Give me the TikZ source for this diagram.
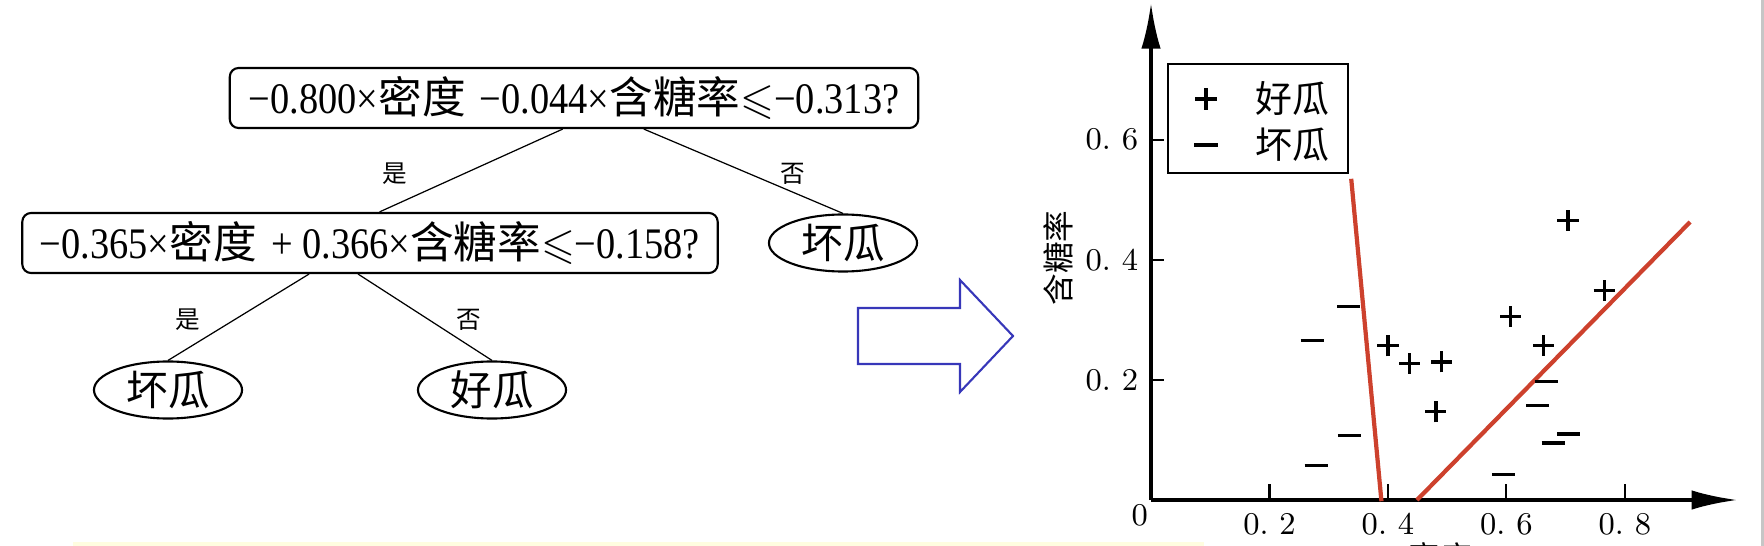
\documentclass[tikz,border=0pt]{standalone}
\usepackage{amssymb}
\usepackage{fontspec}
\newfontfamily\zh{Noto Sans CJK SC}
\newfontfamily\tm[FakeStretch=0.88]{Liberation Serif}
\usetikzlibrary{arrows.meta,positioning,shapes.geometric}
\definecolor{arrowblue}{RGB}{55,55,185}
\definecolor{splitred}{RGB}{205,65,45}

\begin{document}
\begin{tikzpicture}[x=0.01cm,y=-0.01cm,
  cond/.style={draw,rounded corners=2.5pt,line width=0.6pt,inner sep=0pt,minimum height=0.6cm,font=\fontsize{12.4}{14}\selectfont},
  leaf/.style={draw,ellipse,line width=0.6pt,inner sep=0pt,minimum width=1.48cm,minimum height=0.57cm,font=\zh\fontsize{11.8}{13}\selectfont},
  yesno/.style={font=\zh\fontsize{7}{8}\selectfont},
  branch/.style={line width=0.35pt},
  hollowarrow/.style={draw=arrowblue,line width=0.6pt,line join=miter},
  axisline/.style={line width=1pt,-{Latex[length=13pt,width=5.5pt]}},
  tickline/.style={line width=0.6pt},
  ticklabel/.style={font=\fontsize{9}{10}\selectfont,inner sep=0pt},
  boundary/.style={draw=splitred,line width=1.2pt},
  sign/.style={line width=0.9pt}]
\useasboundingbox (0,0) rectangle (1764,546);
\fill[yellow!12] (73,542) rectangle (1204,546);
\fill[gray!45] (1761,0) rectangle (1764,546);

% decision tree
\node[cond,minimum width=6.88cm] (q1) at (574,98) {{\tm −0.800×}{\zh 密度} {\tm −0.044×}{\zh 含糖率}$\leqslant${\tm −0.313?}};
\node[cond,minimum width=6.95cm] (q2) at (370,243) {{\tm −0.365×}{\zh 密度} {\tm + 0.366×}{\zh 含糖率}$\leqslant${\tm −0.158?}};
\node[leaf] (l1) at (843,243) {坏瓜};
\node[leaf] (l2) at (168,390) {坏瓜};
\node[leaf] (l3) at (492,390) {好瓜};

\foreach \from/\to in {q1.-110/q2.73,q1.-24/l1.north,q2.-153/l2.north,q2.-111/l3.north}
\draw[branch] (\from) -- (\to);

\node[yesno] (y1) at (395,174) {是};
\node[yesno] (n1) at (793,174) {否};
\node[yesno] (y2) at (188,320) {是};
\node[yesno] (n2) at (469,320) {否};

% hollow arrow
\draw[hollowarrow] (858,308) -- (960,308) -- (960,280) -- (1013,336) -- (960,392) -- (960,364) -- (858,364) -- cycle;

% legend
\draw[line width=0.7pt] (1168,64) rectangle (1348,173);
\draw[sign] (1206,99) +(-3pt,0) -- +(3pt,0) +(0,-3pt) -- +(0,3pt);
\draw[sign] (1206,145) +(-3.3pt,0) -- +(3.3pt,0);
\node[font=\zh\fontsize{10.5}{12}\selectfont] (good) at (1292,99) {好瓜};
\node[font=\zh\fontsize{10.5}{12}\selectfont] (bad) at (1292,145) {坏瓜};

\node[font=\zh\fontsize{9}{10}\selectfont,rotate=90] (ylab) at (1058,258) {含糖率};
\node[font=\zh\fontsize{9}{10}\selectfont] (xlab) at (1440,557) {密度};

% scatter plot
\begin{scope}[shift={(1151,500)},x=5.92cm,y=6cm]
\draw[axisline] (0,0) -- (0.99,0);
\draw[axisline] (0,0) -- (0,0.828);
\foreach \x/\t in {0.2/2,0.4/4,0.6/6,0.8/8}
{\draw[tickline] (\x,0) -- (\x,0.027);
 \node[ticklabel] at (\x,-0.04) {0.\ \t};}
\foreach \y/\t in {0.2/2,0.4/4,0.6/6}
{\draw[tickline] (0,\y) -- (0.022,\y);
 \node[ticklabel] at (-0.066,\y) {0.\ \t};}
\node[ticklabel] (zero) at (-0.019,-0.025) {0};

\draw[boundary] (0.338,0.535) -- (0.389,-0.002);
\draw[boundary] (0.449,0) -- (0.910,0.463);

\foreach \x/\y in {0.704/0.466,0.765/0.349,0.607/0.306,0.663/0.258,0.400/0.257,0.437/0.228,0.491/0.230,0.481/0.147}
\draw[sign] (\x,\y) +(-3pt,0) -- +(3pt,0) +(0,-3pt) -- +(0,3pt);
\foreach \x/\y in {0.334/0.323,0.272/0.265,0.335/0.108,0.279/0.058,0.667/0.198,0.653/0.157,0.679/0.095,0.705/0.110,0.595/0.042}
\draw[sign] (\x,\y) +(-3.3pt,0) -- +(3.3pt,0);
\end{scope}
\end{tikzpicture}
\end{document}
